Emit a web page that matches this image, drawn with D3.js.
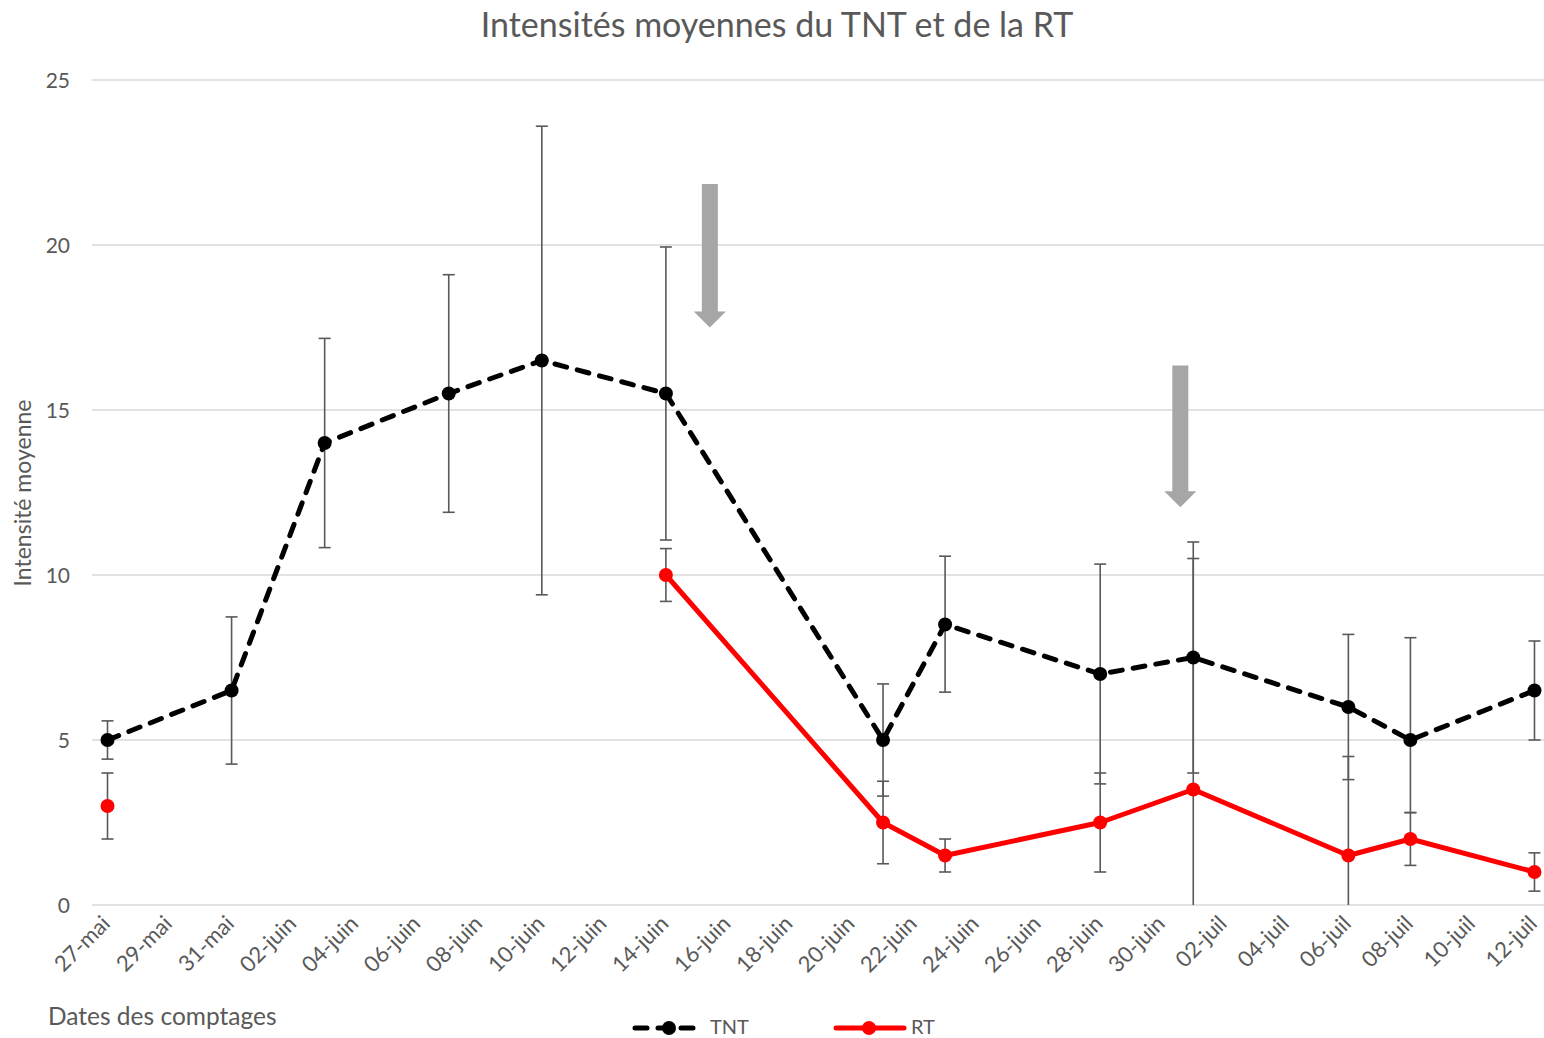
<!DOCTYPE html>
<html>
<head>
<meta charset="utf-8">
<script src="https://cdn.jsdelivr.net/npm/d3@7"></script>
<style>
  body { margin: 0; background: #fff; }
  text { font-family: Lato, "Open Sans", sans-serif; fill: #595959; }
</style>
</head>
<body>
<div id="chart"></div>
<script>
// dates of the counts
const dates = ["2019-05-27", "2019-05-31", "2019-06-03", "2019-06-07", "2019-06-10", "2019-06-14",
  "2019-06-21", "2019-06-23", "2019-06-28", "2019-07-01", "2019-07-06", "2019-07-08", "2019-07-12"];

// TNT series with error bar low / high
const tnt = [5, 6.5, 14, 15.5, 16.5, 15.5, 5, 8.5, 7, 7.5, 6, 5, 6.5];
const tntLo = [4.42, 4.27, 10.83, 11.9, 9.4, 11.06, 3.3, 6.45, 3.67, 4.0, 3.8, 2.8, 5.0];
const tntHi = [5.58, 8.73, 17.17, 19.1, 23.6, 19.94, 6.7, 10.57, 10.33, 11.0, 8.2, 8.1, 8.0];

// RT series (null = no count)
const rt = [3, null, null, null, null, 10, 2.5, 1.5, 2.5, 3.5, 1.5, 2, 1];
const rtLo = [2, null, null, null, null, 9.2, 1.25, 1.0, 1.0, -3.5, -1.5, 1.2, 0.42];
const rtHi = [4, null, null, null, null, 10.8, 3.75, 2.0, 4.0, 10.5, 4.5, 2.8, 1.58];

// grey arrows (date, top value, tip value)
const arrows = [
  { date: "2019-06-15T10:00", top: 21.85, tip: 17.5 },
  { date: "2019-06-30T14:00", top: 16.35, tip: 12.05 }
];

const yTicks = [0, 5, 10, 15, 20, 25];
const months = ["janv", "févr", "mars", "avr", "mai", "juin", "juil", "août", "sept", "oct", "nov", "déc"];

const width = 1544, height = 1038;
const parse = d3.timeParse("%Y-%m-%d");
const parseT = d3.timeParse("%Y-%m-%dT%H:%M");

const svg = d3.select("#chart").append("svg")
  .attr("width", width)
  .attr("height", height);

const x = d3.scaleTime()
  .domain([parseT("2019-05-26T12:00"), parseT("2019-07-12T12:00")])
  .range([92, 1550]);
const y = d3.scaleLinear().domain([0, 25]).range([905, 80]);

svg.append("defs").append("clipPath").attr("id", "plot-clip")
  .append("rect").attr("x", 0).attr("y", 0).attr("width", width).attr("height", 905);

// title
svg.append("text")
  .attr("x", 777).attr("y", 37)
  .attr("text-anchor", "middle")
  .style("font-size", "34px")
  .text("Intensités moyennes du TNT et de la RT");

// gridlines + y labels
svg.append("g").selectAll("line")
  .data(yTicks)
  .join("line")
  .attr("x1", 92).attr("x2", width)
  .attr("y1", (d) => y(d)).attr("y2", (d) => y(d))
  .attr("stroke", "#d9d9d9")
  .attr("stroke-width", 1.5);

svg.append("g").selectAll("text")
  .data(yTicks)
  .join("text")
  .attr("x", 70)
  .attr("y", (d) => y(d) + 8)
  .attr("text-anchor", "end")
  .style("font-size", "21px")
  .text((d) => d);

// x tick labels every 2 days
const xTicks = d3.timeDay.range(parse("2019-05-27"), parse("2019-07-13"), 2);
svg.append("g").selectAll("text")
  .data(xTicks)
  .join("text")
  .attr("text-anchor", "end")
  .attr("transform", (d) => `translate(${x(d) + 4},${925}) rotate(-45)`)
  .style("font-size", "22px")
  .text((d) => d3.timeFormat("%d")(d) + "-" + months[d.getMonth()]);

// axis titles
svg.append("text")
  .attr("transform", "translate(31,493) rotate(-90)")
  .attr("text-anchor", "middle")
  .style("font-size", "23px")
  .text("Intensité moyenne");

svg.append("text")
  .attr("x", 48).attr("y", 1025)
  .style("font-size", "24.5px")
  .text("Dates des comptages");

// error bars
const errG = svg.append("g").attr("clip-path", "url(#plot-clip)");
function errorBars(vals, lo, hi) {
  const rows = dates.map((d, i) => ({ date: parse(d), v: vals[i], lo: lo[i], hi: hi[i] }))
    .filter((d) => d.v != null);
  const g = errG.append("g").attr("stroke", "#595959").attr("stroke-width", 1.6);
  g.selectAll(".stem").data(rows).join("line")
    .attr("x1", (d) => x(d.date)).attr("x2", (d) => x(d.date))
    .attr("y1", (d) => y(d.lo)).attr("y2", (d) => y(d.hi));
  g.selectAll(".cap-lo").data(rows).join("line")
    .attr("x1", (d) => x(d.date) - 6).attr("x2", (d) => x(d.date) + 6)
    .attr("y1", (d) => y(d.lo)).attr("y2", (d) => y(d.lo));
  g.selectAll(".cap-hi").data(rows).join("line")
    .attr("x1", (d) => x(d.date) - 6).attr("x2", (d) => x(d.date) + 6)
    .attr("y1", (d) => y(d.hi)).attr("y2", (d) => y(d.hi));
}
errorBars(tnt, tntLo, tntHi);
errorBars(rt, rtLo, rtHi);

// arrows
arrows.forEach((a) => {
  const cx = x(parseT(a.date));
  const yt = y(a.top), yp = y(a.tip), yh = yp - 16;
  svg.append("path")
    .attr("d", `M${cx - 8},${yt} L${cx + 8},${yt} L${cx + 8},${yh} L${cx + 16},${yh} L${cx},${yp} L${cx - 16},${yh} L${cx - 8},${yh} Z`)
    .attr("fill", "#a6a6a6");
});

// series lines
const line = d3.line()
  .defined((d) => d.v != null)
  .x((d) => x(d.date))
  .y((d) => y(d.v));

function series(vals, color, dash) {
  const rows = dates.map((d, i) => ({ date: parse(d), v: vals[i] }));
  svg.append("path")
    .datum(rows)
    .attr("d", line)
    .attr("fill", "none")
    .attr("stroke", color)
    .attr("stroke-width", 5)
    .attr("stroke-linecap", "round")
    .attr("stroke-linejoin", "round")
    .attr("stroke-dasharray", dash);
  svg.append("g").selectAll("circle")
    .data(rows.filter((d) => d.v != null))
    .join("circle")
    .attr("cx", (d) => x(d.date))
    .attr("cy", (d) => y(d.v))
    .attr("r", 7)
    .attr("fill", color);
}
series(tnt, "#000000", "12,11");
series(rt, "#ff0000", null);

// legend
const leg = svg.append("g").attr("transform", "translate(0,1028)");
leg.append("line").attr("x1", 635).attr("x2", 697).attr("y1", 0).attr("y2", 0)
  .attr("stroke", "#000").attr("stroke-width", 5).attr("stroke-linecap", "round")
  .attr("stroke-dasharray", "12,11");
leg.append("circle").attr("cx", 669).attr("cy", 0).attr("r", 7).attr("fill", "#000");
leg.append("text").attr("x", 710).attr("y", 6).style("font-size", "20px").text("TNT");
leg.append("line").attr("x1", 836).attr("x2", 904).attr("y1", 0).attr("y2", 0)
  .attr("stroke", "#ff0000").attr("stroke-width", 5).attr("stroke-linecap", "round");
leg.append("circle").attr("cx", 869).attr("cy", 0).attr("r", 7).attr("fill", "#ff0000");
leg.append("text").attr("x", 911).attr("y", 6).style("font-size", "20px").text("RT");
</script>
</body>
</html>
